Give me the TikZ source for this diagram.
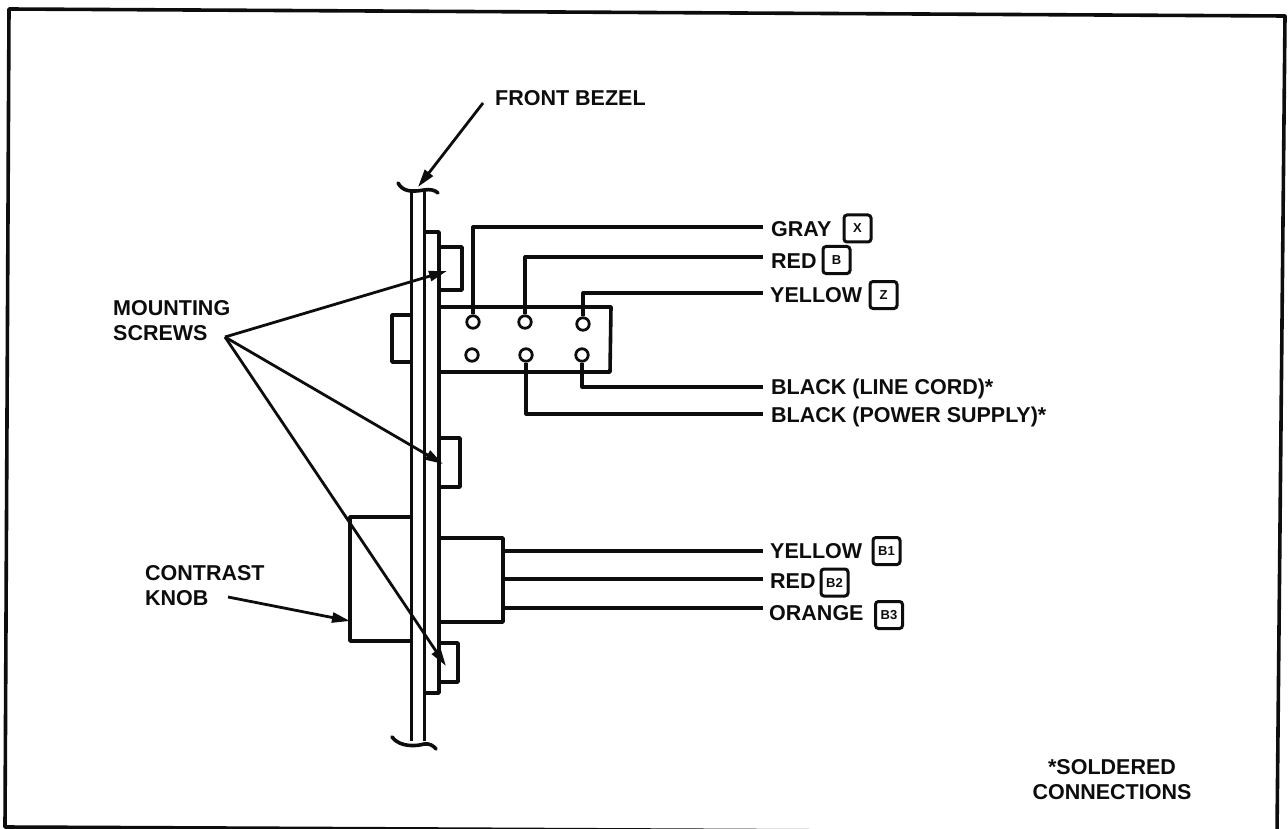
\documentclass[tikz,border=0pt]{standalone}
\usepackage{fontspec}
\setmainfont{Liberation Sans}
\usetikzlibrary{arrows.meta}
\definecolor{ink}{gray}{0.05}
\tikzset{
 part/.style={draw=ink,line width=3.6pt,line join=round},
 bezelline/.style={draw=ink,line width=3pt},
 wire/.style={draw=ink,line width=3.2pt,line join=round},
 hole/.style={circle,draw=ink,line width=2.8pt,fill=white,minimum size=12.5pt,inner sep=0pt},
 lbl/.style={anchor=west,inner sep=0pt,text=ink,font=\bfseries\fontsize{21.5}{25}\selectfont,align=left},
 tag/.style={draw=ink,line width=3pt,rounded corners=3pt,fill=white,minimum width=27pt,minimum height=27pt,inner sep=0pt,text=ink,font=\bfseries\fontsize{13}{13}\selectfont},
 pointer/.style={draw=ink,line width=2.8pt,-{Stealth[length=18pt,width=10pt,inset=0pt]}},
}
\begin{document}
\begin{tikzpicture}[x=1pt,y=-1pt]
\useasboundingbox (0,0) rectangle (1288,829);
% frame
\draw[ink,line width=3.6pt,line join=round] (9,9) -- (1285,16) -- (1277,833) -- (5,827) -- cycle;
% bezel
\draw[bezelline] (411,191) -- (411,741);
\draw[bezelline] (424,191) -- (424,741);
\draw[part,line cap=round] (398,183) .. controls (403,192) and (412,192) .. (424,190) .. controls (430,189) and (435,190) .. (438,193);
\draw[part,line cap=round] (392,737) .. controls (400,748) and (418,746) .. (424,744) .. controls (429,743) and (434,746) .. (436,749);
% plate
\draw[part] (424,232) -- (439,232) -- (439,693) -- (424,693);
% clips
\draw[part] (439,247) -- (462,247) -- (462,290) -- (439,290);
\draw[part] (439,438) -- (460,438) -- (460,487) -- (439,487);
\draw[part] (439,643) -- (458,643) -- (458,682) -- (439,682);
% connector block
\draw[part] (439,307) -- (611,307) -- (610,372) -- (439,372);
\draw[part] (411,315) -- (392,315) -- (392,362) -- (411,362);
% knob and switch body
\draw[part] (411,517) -- (350,517) -- (350,641) -- (411,641);
\draw[part] (439,538) -- (503,538) -- (503,622) -- (439,622);
% wire ends
\coordinate (w1) at (763,227);
\coordinate (w2) at (763,257);
\coordinate (w3) at (763,293);
\coordinate (w4) at (763,387);
\coordinate (w5) at (763,414);
\coordinate (w6) at (763,551);
\coordinate (w7) at (763,579);
\coordinate (w8) at (763,608);
\coordinate (s6) at (503,551);
\coordinate (s7) at (503,579);
\coordinate (s8) at (503,608);
% holes
\node[hole] (h1) at (473,322) {};
\node[hole] (h2) at (525,322) {};
\node[hole] (h3) at (583,324) {};
\node[hole] (h4) at (472,355) {};
\node[hole] (h5) at (526,355) {};
\node[hole] (h6) at (582,355) {};
\draw[wire] (h1) |- (w1);
\draw[wire] (h2) |- (w2);
\draw[wire] (h3) |- (w3);
\draw[wire] (h6) |- (w4);
\draw[wire] (h5) |- (w5);
\draw[wire] (s6) -- (w6);
\draw[wire] (s7) -- (w7);
\draw[wire] (s8) -- (w8);
% right labels
\node[lbl] (gray) at (771,229) {GRAY};
\node[tag] (tx) at (857.5,228.5) {X};
\node[lbl] (red) at (771,261) {RED};
\node[tag] (tb) at (836.5,260) {B};
\node[lbl] (yel) at (770,295) {YELLOW};
\node[tag] (tz) at (883.5,295) {Z};
\node[lbl] (bl1) at (771,389) {BLACK (LINE CORD)*};
\node[lbl] (bl2) at (771,417) {BLACK (POWER SUPPLY)*};
\node[lbl] (yel2) at (770,551) {YELLOW};
\node[tag] (tb1) at (886.5,551) {B1};
\node[lbl] (red2) at (770,581) {RED};
\node[tag] (tb2) at (834.5,582.5) {B2};
\node[lbl] (ora) at (769,613) {ORANGE};
\node[tag] (tb3) at (889,615) {B3};
% left labels
\node[lbl] (bezel) at (495,98) {FRONT BEZEL};
\node[lbl] (screws) at (113,320.5) {MOUNTING\\SCREWS};
\node[lbl] (knob) at (145,585.5) {CONTRAST\\KNOB};
\node[lbl,align=center,anchor=center] (sold) at (1112,779.5) {*SOLDERED\\CONNECTIONS};
% pointer targets
\coordinate (o) at (225,337);
\coordinate (t1) at (447,271);
\coordinate (t2) at (443,464);
\coordinate (t3) at (446,666);
\coordinate (t4) at (418,187);
\coordinate (t5) at (350,621);
\coordinate (o4) at (483,103);
\coordinate (o5) at (228,597);
\draw[pointer] (o) -- (t1);
\draw[pointer] (o) -- (t2);
\draw[pointer] (o) -- (t3);
\draw[pointer] (o4) -- (t4);
\draw[pointer] (o5) -- (t5);
\end{tikzpicture}
\end{document}
